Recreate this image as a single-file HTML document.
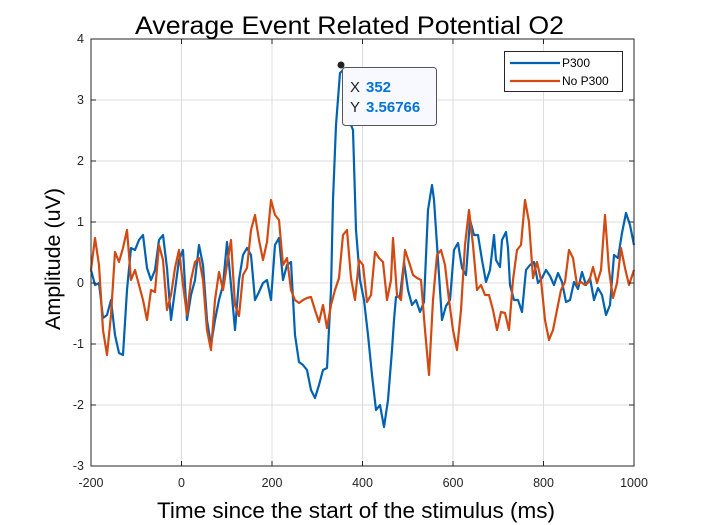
<!DOCTYPE html>
<html><head><meta charset="utf-8"><style>
body{margin:0;background:#fff;}
svg{display:block;font-family:"Liberation Sans",Arial,sans-serif;}
</style></head><body>
<svg width="701" height="525" viewBox="0 0 701 525" xmlns="http://www.w3.org/2000/svg">
<rect width="701" height="525" fill="#fff"/>
<g stroke="#dcdcdc" stroke-width="1">
<line x1="181.5" y1="39" x2="181.5" y2="466"/><line x1="272" y1="39" x2="272" y2="466"/><line x1="362.5" y1="39" x2="362.5" y2="466"/><line x1="453" y1="39" x2="453" y2="466"/><line x1="543.5" y1="39" x2="543.5" y2="466"/>
<line x1="91" y1="100" x2="634" y2="100"/><line x1="91" y1="161" x2="634" y2="161"/><line x1="91" y1="222" x2="634" y2="222"/><line x1="91" y1="283" x2="634" y2="283"/><line x1="91" y1="344" x2="634" y2="344"/><line x1="91" y1="405" x2="634" y2="405"/>
</g>
<g fill="none" stroke-width="2.2" stroke-linejoin="round">
<polyline stroke="#0062b0" points="91,270 95,285 99,283 103,318 107,315 111,300 115,335 119,353 123,355 127,290 131,248 135,250 139,240 143,235 147,268 151,280 155,270 159,240 163,235 167,268 171,320 175,290 179,260 183,250 187,320 191,295 195,280 199,245 203,265 207,320 211,345 215,320 219,300 223,285 227,242 231,285 235,330 239,280 243,255 247,248 251,255 255,300 259,292 263,283 267,280 271,300 275,245 279,238 283,280 287,265 291,262 295,335 299,362 303,365 307,370 311,390 315,398 319,385 323,370 327,368 331,290 333,200 336,125 340,73 343,70 347,100 351,125 353,130 356,230 360,280 364,300 368,335 372,375 376,410 380,405 384,427 388,400 392,350 394,320 396,297 400,296 404,262 408,290 412,305 416,300 420,312 424,302 428,210 432,185 434,200 438,260 442,320 446,306 450,300 454,250 458,243 462,268 466,275 470,220 474,235 478,235 482,260 486,282 490,270 494,235 496,260 500,267 502,240 506,232 508,248 510,285 514,300 518,300 522,312 526,270 530,265 534,262 538,283 542,278 546,270 550,276 554,285 558,273 562,282 566,302 570,300 574,282 578,289 582,272 586,285 590,278 594,300 598,288 602,295 606,315 610,305 614,255 618,258 622,233 626,213 630,225 634,245"/>
<polyline stroke="#d24a12" points="91,270 95,238 99,265 103,330 107,355 111,315 115,252 119,262 123,248 127,230 131,280 135,270 139,285 143,300 147,320 151,290 155,292 159,245 163,260 167,310 171,295 175,268 179,250 183,285 187,315 191,280 195,262 199,258 203,280 207,330 211,350 215,300 219,272 223,290 227,265 231,240 235,305 239,316 243,275 247,268 251,230 255,215 259,240 263,260 267,242 271,200 275,215 279,220 283,265 287,258 291,290 295,300 299,303 303,300 307,298 311,297 315,310 319,322 323,305 327,328 331,305 335,290 339,278 343,235 347,230 351,278 355,300 359,260 363,265 367,302 371,295 375,252 379,258 383,262 387,300 391,280 393,238 397,295 401,300 405,250 409,262 413,275 417,278 421,280 425,330 429,375 433,300 437,255 441,250 445,265 449,300 453,330 457,350 461,310 465,245 469,210 473,245 477,290 481,285 485,295 489,295 493,310 497,330 501,312 505,313 509,330 513,280 517,250 521,245 525,200 529,222 533,278 537,262 541,280 545,320 549,340 553,330 557,310 561,290 565,282 569,250 573,258 577,285 581,282 585,285 589,282 593,267 597,283 601,270 605,215 609,270 613,298 617,283 621,248 625,268 629,285 634,270"/>
</g>
<rect x="91" y="39" width="543" height="427" fill="none" stroke="#262626" stroke-width="1"/>
<g stroke="#262626" stroke-width="1">
<line x1="181.5" y1="466" x2="181.5" y2="461"/><line x1="272" y1="466" x2="272" y2="461"/><line x1="362.5" y1="466" x2="362.5" y2="461"/><line x1="453" y1="466" x2="453" y2="461"/><line x1="543.5" y1="466" x2="543.5" y2="461"/>
<line x1="181.5" y1="39" x2="181.5" y2="44"/><line x1="272" y1="39" x2="272" y2="44"/><line x1="362.5" y1="39" x2="362.5" y2="44"/><line x1="453" y1="39" x2="453" y2="44"/><line x1="543.5" y1="39" x2="543.5" y2="44"/>
<line x1="91" y1="100" x2="96" y2="100"/><line x1="91" y1="161" x2="96" y2="161"/><line x1="91" y1="222" x2="96" y2="222"/><line x1="91" y1="283" x2="96" y2="283"/><line x1="91" y1="344" x2="96" y2="344"/><line x1="91" y1="405" x2="96" y2="405"/>
<line x1="634" y1="100" x2="629" y2="100"/><line x1="634" y1="161" x2="629" y2="161"/><line x1="634" y1="222" x2="629" y2="222"/><line x1="634" y1="283" x2="629" y2="283"/><line x1="634" y1="344" x2="629" y2="344"/><line x1="634" y1="405" x2="629" y2="405"/>
</g>
<g font-size="12.5" fill="#262626" text-anchor="end">
<text x="84" y="43">4</text><text x="84" y="104">3</text><text x="84" y="165">2</text><text x="84" y="226">1</text><text x="84" y="287">0</text><text x="84" y="348">-1</text><text x="84" y="409">-2</text><text x="84" y="470">-3</text>
</g>
<g font-size="12.5" fill="#262626" text-anchor="middle">
<text x="91" y="487">-200</text><text x="181.5" y="487">0</text><text x="272" y="487">200</text><text x="362.5" y="487">400</text><text x="453" y="487">600</text><text x="543.5" y="487">800</text><text x="634" y="487">1000</text>
</g>
<text x="157" y="518" font-size="22" textLength="398" lengthAdjust="spacingAndGlyphs" fill="#000">Time since the start of the stimulus (ms)</text>
<text transform="translate(60,330) rotate(-90)" font-size="21" textLength="142" lengthAdjust="spacingAndGlyphs" fill="#000">Amplitude (uV)</text>
<text x="135" y="34" font-size="25" textLength="429" lengthAdjust="spacingAndGlyphs" fill="#000">Average Event Related Potential O2</text>
<rect x="504.5" y="51.5" width="118" height="40" fill="#fff" stroke="#262626" stroke-width="1"/>
<line x1="510" y1="63" x2="560" y2="63" stroke="#0062b0" stroke-width="2.2"/>
<line x1="510" y1="81" x2="560" y2="81" stroke="#d24a12" stroke-width="2.2"/>
<text x="562" y="67" font-size="12" fill="#000">P300</text>
<text x="562" y="85" font-size="12" fill="#000">No P300</text>
<rect x="342.5" y="67.5" width="94" height="58" rx="3" fill="#f8f8ff" stroke="#555" stroke-width="1"/>
<text x="350" y="92" font-size="15" fill="#222">X</text><text x="366" y="92" font-size="15" font-weight="bold" fill="#0073d9">352</text>
<text x="350" y="112" font-size="15" fill="#222">Y</text><text x="366" y="112" font-size="15" font-weight="bold" fill="#0073d9">3.56766</text>
<circle cx="341" cy="65" r="3.5" fill="#222"/>
</svg>
</body></html>
